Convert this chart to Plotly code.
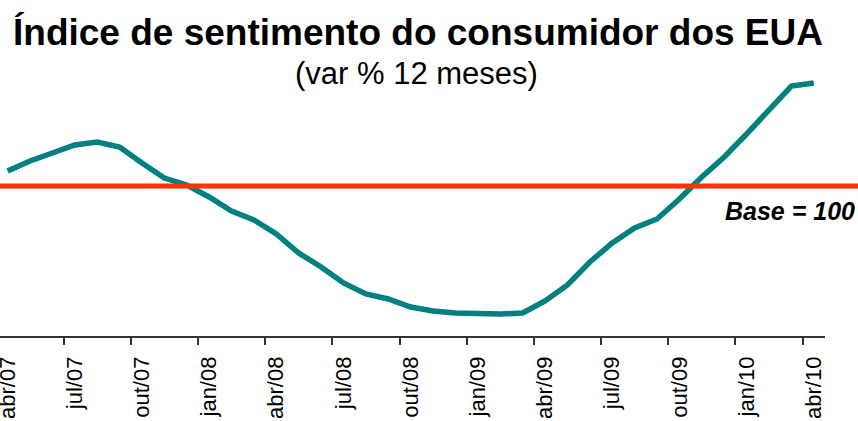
import plotly.graph_objects as go

months = ["abr/07", "mai/07", "jun/07", "jul/07", "ago/07", "set/07", "out/07", "nov/07", "dez/07",
          "jan/08", "fev/08", "mar/08", "abr/08", "mai/08", "jun/08", "jul/08", "ago/08", "set/08",
          "out/08", "nov/08", "dez/08", "jan/09", "fev/09", "mar/09", "abr/09", "mai/09", "jun/09",
          "jul/09", "ago/09", "set/09", "out/09", "nov/09", "dez/09", "jan/10", "fev/10", "mar/10",
          "abr/10"]

sentiment = [103.75, 106.25, 108.25, 110.25, 111.0, 109.75, 105.75, 102.0, 100.25,
             97.25, 93.75, 91.5, 88.0, 83.25, 79.75, 75.75, 73.0, 71.75,
             69.75, 68.75, 68.25, 68.0, 68.0, 68.25, 71.25, 75.25, 81.0,
             85.75, 89.5, 91.75, 96.75, 102.25, 107.25, 113.0, 119.0, 125.0,
             125.75]

base_value = 100
title_text = "Índice de sentimento do consumidor dos EUA"
subtitle_text = "(var % 12 meses)"
base_label = "Base = 100"

FONT = "Liberation Sans, Arial, Helvetica, sans-serif"

x_idx = list(range(len(months)))
label_idx = list(range(0, len(months), 3))

fig = go.Figure()
fig.add_trace(go.Scatter(
    x=x_idx, y=sentiment, mode="lines",
    line=dict(color="#008080", width=5.5),
    hoverinfo="skip", showlegend=False,
))

fig.add_shape(type="line", xref="paper", yref="y",
              x0=0, x1=1.05, y0=base_value, y1=base_value,
              line=dict(color="#FF3300", width=5), layer="above")

fig.add_annotation(text="<b>" + title_text + "</b>", xref="paper", yref="paper",
                   x=418 / 825, y=1.14, xanchor="center", yanchor="middle",
                   showarrow=False, font=dict(family=FONT, size=37, color="black"))
fig.add_annotation(text=subtitle_text, xref="paper", yref="paper",
                   x=416 / 825, y=0.985, xanchor="center", yanchor="middle",
                   showarrow=False, font=dict(family=FONT, size=31, color="black"))
fig.add_annotation(text="<b><i>" + base_label + "</i></b>", xref="paper", yref="paper",
                   x=857 / 825, y=0.47, xanchor="right", yanchor="middle",
                   showarrow=False, font=dict(family=FONT, size=25, color="black"))

fig.update_layout(
    width=858, height=421,
    margin=dict(l=0, r=33, t=70, b=85, autoexpand=False),
    paper_bgcolor="white", plot_bgcolor="white",
    showlegend=False,
    xaxis=dict(
        range=[-0.339, 36.5],
        automargin=False,
        tickmode="array",
        tickvals=label_idx,
        ticktext=[months[i] for i in label_idx],
        ticks="",
        tickangle=-90,
        tickfont=dict(family=FONT, size=22, color="black"),
        ticklabelstandoff=10,
        ticklabeloverflow="allow",
        showgrid=False, zeroline=False,
        showline=True, linecolor="#333333", linewidth=1.5,
        minor=dict(tickmode="array", tickvals=[i - 0.5 for i in label_idx],
                   ticks="outside", ticklen=7, tickwidth=1.5, tickcolor="#333333",
                   showgrid=False),
    ),
    yaxis=dict(range=[62.5, 129], visible=False, fixedrange=True, automargin=False),
)

fig.write_html("out.html",
               config={"displayModeBar": False},
               post_script="document.body.style.margin='0';document.body.style.overflow='hidden';")
